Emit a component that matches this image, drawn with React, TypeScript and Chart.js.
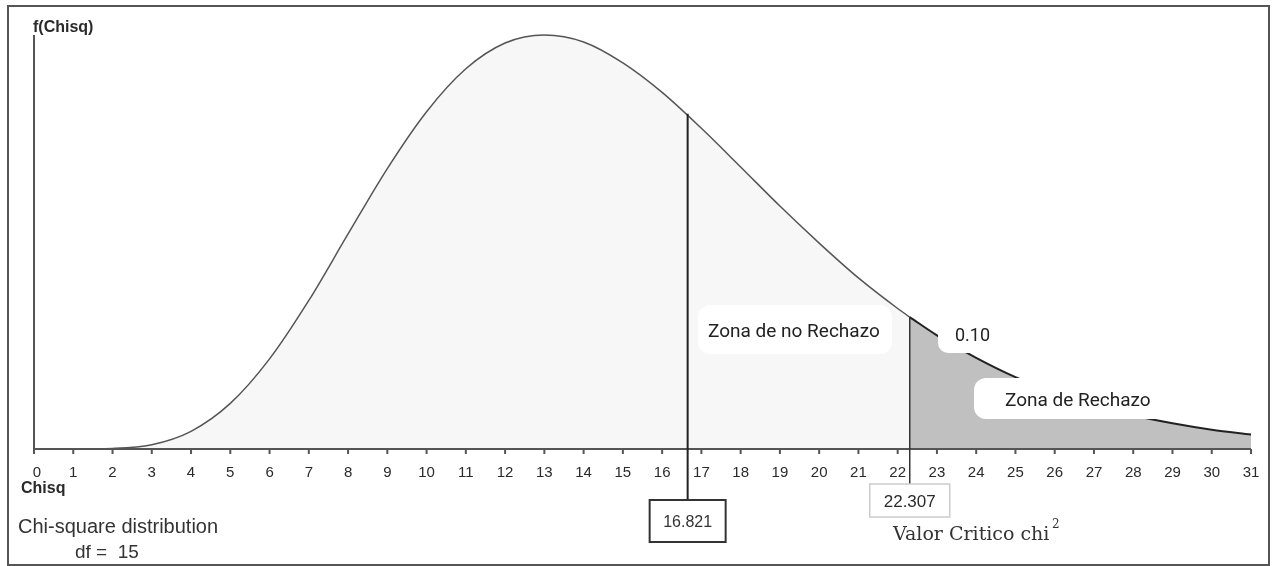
import React, { useEffect, useRef } from 'react';
import { Chart, registerables } from 'chart.js';

Chart.register(...registerables);

// ---- Data ----
const chisqValues = [0, 1, 2, 3, 4, 5, 6, 7, 8, 9, 10, 11, 12, 13, 14, 15, 16, 17, 18, 19, 20, 21, 22, 23, 24, 25, 26, 27, 28, 29, 30, 31];
const densityValues = [
  0, 0.0, 0.0001, 0.0008, 0.0033, 0.0085, 0.0168, 0.0277, 0.0401, 0.0523, 0.0629, 0.0709, 0.0757, 0.0772,
  0.0759, 0.072, 0.0665, 0.0598, 0.0526, 0.0453, 0.0384, 0.0319, 0.0262, 0.0212, 0.017, 0.0134, 0.0105,
  0.0082, 0.0063, 0.0048, 0.0036, 0.0027,
];
const xTickLabels = ['0', '1', '2', '3', '4', '5', '6', '7', '8', '9', '10', '11', '12', '13', '14', '15', '16', '17', '18', '19', '20', '21', '22', '23', '24', '25', '26', '27', '28', '29', '30', '31'];

const criticalValue = 22.307;
const criticalDensity = 0.0246;
const criticalLabel = '22.307';
const statisticX = 16.65; // position where the line is drawn in the picture
const statisticDensity = 0.0625;
const statisticLabel = '16.821';
const alphaLabel = '0.10';
const yAxisTitle = 'f(Chisq)';
const xAxisTitle = 'Chisq';
const distTitle = 'Chi-square distribution';
const dfLabel = 'df =  15';
const acceptLabel = 'Zona de no Rechazo';
const rejectLabel = 'Zona de Rechazo';
const criticalCaption = 'Valor Critico chi';
const criticalCaptionSup = '2';
const xMin = 0;
const xMax = 31;
const yMax = 0.0772;

const SANS = '"Liberation Sans", Arial, sans-serif';
const ROBOTO = 'Roboto, "Noto Sans", sans-serif';
const SERIF = '"DejaVu Serif", serif';

function roundRect(ctx: CanvasRenderingContext2D, x: number, y: number, w: number, h: number, r: number) {
  ctx.beginPath();
  ctx.moveTo(x + r, y);
  ctx.lineTo(x + w - r, y);
  ctx.arcTo(x + w, y, x + w, y + r, r);
  ctx.lineTo(x + w, y + h - r);
  ctx.arcTo(x + w, y + h, x + w - r, y + h, r);
  ctx.lineTo(x + r, y + h);
  ctx.arcTo(x, y + h, x, y + h - r, r);
  ctx.lineTo(x, y + r);
  ctx.arcTo(x, y, x + r, y, r);
  ctx.closePath();
}

const overlayPlugin = {
  id: 'overlay',
  afterDatasetsDraw(chart: any) {
    const ctx: CanvasRenderingContext2D = chart.ctx;
    const xs = chart.scales.x;
    const ys = chart.scales.y;
    const x0 = xs.getPixelForValue(xMin);
    const x1 = xs.getPixelForValue(xMax);
    const yb = ys.getPixelForValue(0);
    const yt = ys.getPixelForValue(yMax);
    ctx.save();

    // outer frame
    ctx.strokeStyle = '#555';
    ctx.lineWidth = 2;
    ctx.strokeRect(8, 6, 1261, 559);

    // axes
    ctx.strokeStyle = '#555';
    ctx.lineWidth = 2;
    ctx.beginPath();
    ctx.moveTo(x0, yt);
    ctx.lineTo(x0, yb);
    ctx.lineTo(x1, yb);
    ctx.stroke();

    // ticks + labels
    ctx.fillStyle = '#2a2a2a';
    ctx.font = `15px ${SANS}`;
    ctx.textAlign = 'center';
    ctx.textBaseline = 'alphabetic';
    chisqValues.forEach((v, i) => {
      const px = xs.getPixelForValue(v);
      ctx.beginPath();
      ctx.moveTo(px, yb);
      ctx.lineTo(px, yb + 5);
      ctx.stroke();
      ctx.fillText(xTickLabels[i], i === 0 ? px + 3 : px, 477);
    });

    // axis titles
    ctx.font = `bold 16px ${SANS}`;
    ctx.textAlign = 'left';
    ctx.fillText(xAxisTitle, 21, 493);
    ctx.font = `bold 16px ${SANS}`;
    ctx.fillText(yAxisTitle, 33, 32);

    ctx.fillStyle = '#333';
    ctx.font = `20px ${SANS}`;
    ctx.fillText(distTitle, 18, 533);
    ctx.font = `19px ${SANS}`;
    ctx.fillText(dfLabel, 75, 558);

    // statistic line and box
    const sx = xs.getPixelForValue(statisticX);
    const sy = ys.getPixelForValue(statisticDensity);
    ctx.strokeStyle = '#222';
    ctx.lineWidth = 2;
    ctx.beginPath();
    ctx.moveTo(sx, sy);
    ctx.lineTo(sx, 500);
    ctx.stroke();
    ctx.fillStyle = '#fff';
    ctx.fillRect(sx - 38, 500, 76, 42);
    ctx.strokeStyle = '#333';
    ctx.strokeRect(sx - 38, 500, 76, 42);
    ctx.fillStyle = '#333';
    ctx.font = `16px ${SANS}`;
    ctx.textAlign = 'center';
    ctx.fillText(statisticLabel, sx, 527);

    // critical line and box
    const cx = xs.getPixelForValue(criticalValue);
    const cy = ys.getPixelForValue(criticalDensity);
    ctx.strokeStyle = '#333';
    ctx.lineWidth = 1.5;
    ctx.beginPath();
    ctx.moveTo(cx, cy);
    ctx.lineTo(cx, 484);
    ctx.stroke();
    ctx.fillStyle = '#fff';
    ctx.fillRect(cx - 40, 484, 80, 33);
    ctx.strokeStyle = '#ccc';
    ctx.lineWidth = 1.5;
    ctx.strokeRect(cx - 40, 484, 80, 33);
    ctx.fillStyle = '#2a2a2a';
    ctx.font = `17px ${SANS}`;
    ctx.fillText(criticalLabel, cx, 507);

    ctx.textAlign = 'left';
    ctx.font = `19px ${SERIF}`;
    ctx.fillStyle = '#333';
    ctx.fillText(criticalCaption, 893, 540);
    ctx.font = `12px ${SERIF}`;
    ctx.fillText(criticalCaptionSup, 1052, 528);

    // zone label boxes
    ctx.fillStyle = '#fff';
    roundRect(ctx, 698, 305, 194, 49, 12);
    ctx.fill();
    roundRect(ctx, 938, 313, 75, 40, 10);
    ctx.fill();
    roundRect(ctx, 974, 378, 194, 41, 12);
    ctx.fill();

    ctx.fillStyle = '#222';
    ctx.font = `19px ${ROBOTO}`;
    ctx.fillText(acceptLabel, 708, 337);
    ctx.font = `18px ${ROBOTO}`;
    ctx.fillText(alphaLabel, 955, 341);
    ctx.font = `19px ${ROBOTO}`;
    ctx.fillText(rejectLabel, 1005, 406);

    ctx.restore();
  },
};

export default function App() {
  const canvasRef = useRef<HTMLCanvasElement | null>(null);

  useEffect(() => {
    if (!canvasRef.current) return;
    const acceptData = chisqValues
      .map((x, i) => ({ x, y: densityValues[i] }))
      .filter((p) => p.x < criticalValue);
    acceptData.push({ x: criticalValue, y: criticalDensity });
    const rejectData = [{ x: criticalValue, y: criticalDensity }].concat(
      chisqValues.map((x, i) => ({ x, y: densityValues[i] })).filter((p) => p.x > criticalValue)
    );

    const chart = new Chart(canvasRef.current, {
      type: 'line',
      data: {
        datasets: [
          {
            label: acceptLabel,
            data: acceptData,
            borderColor: '#555',
            borderWidth: 1.5,
            backgroundColor: '#f7f7f7',
            fill: 'origin',
            pointRadius: 0,
            cubicInterpolationMode: 'monotone',
            clip: 4,
          },
          {
            label: rejectLabel,
            data: rejectData,
            borderColor: '#222',
            borderWidth: 2,
            backgroundColor: '#c0c0c0',
            fill: 'origin',
            pointRadius: 0,
            cubicInterpolationMode: 'monotone',
            clip: 4,
          },
        ],
      },
      options: {
        animation: false,
        responsive: false,
        events: [],
        layout: { padding: { left: 34, right: 22, top: 35, bottom: 117 } },
        scales: {
          x: { type: 'linear', min: xMin, max: xMax, display: false },
          y: { type: 'linear', min: 0, max: yMax, display: false },
        },
        plugins: { legend: { display: false }, tooltip: { enabled: false } },
      },
      plugins: [overlayPlugin],
    } as any);
    return () => chart.destroy();
  }, []);

  return (
    <div style={{ position: 'absolute', left: 0, top: 0, width: 1273, height: 566, background: '#fff' }}>
      <canvas ref={canvasRef} width={1273} height={566} style={{ display: 'block' }} />
    </div>
  );
}
